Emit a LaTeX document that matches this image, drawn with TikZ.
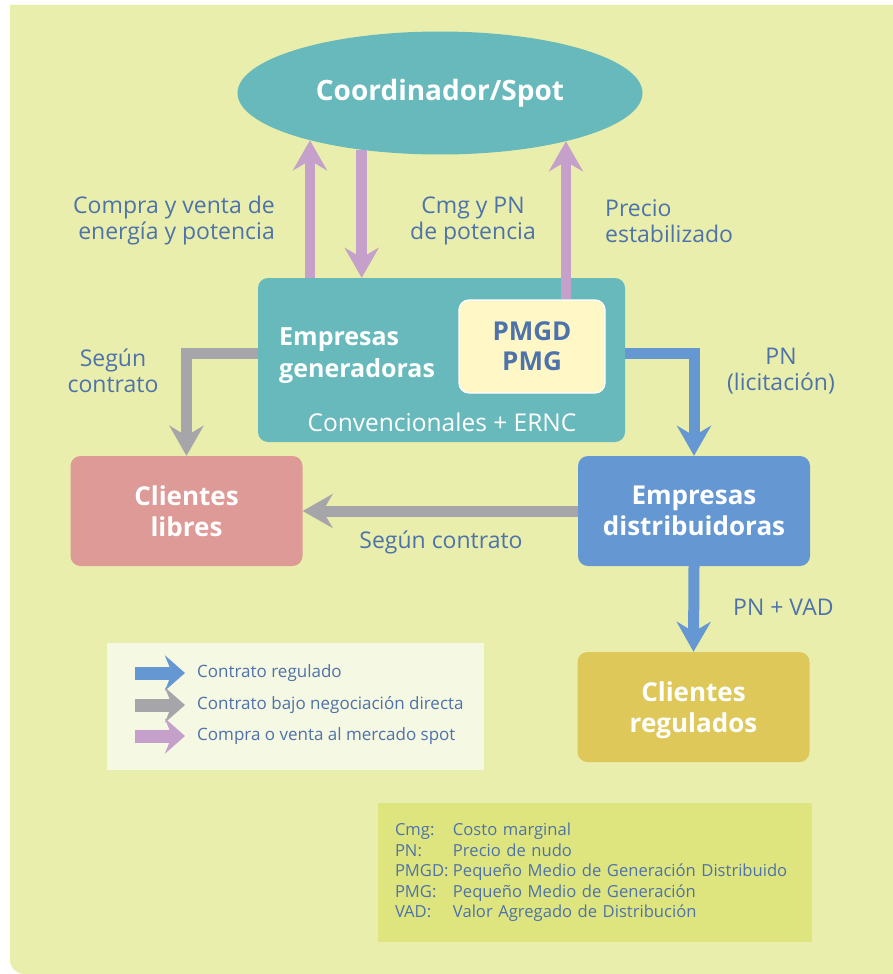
\documentclass[tikz,border=0pt]{standalone}
\usepackage{fontspec}
\setmainfont{Open Sans}
\usetikzlibrary{arrows.meta,shapes.geometric,calc}
\definecolor{panelcolor}{RGB}{233,238,172}
\definecolor{tealcolor}{RGB}{104,185,188}
\definecolor{spotcolor}{RGB}{196,160,203}
\definecolor{directcolor}{RGB}{166,166,170}
\definecolor{regcolor}{RGB}{101,152,210}
\definecolor{librecolor}{RGB}{222,154,150}
\definecolor{regclientcolor}{RGB}{223,200,90}
\definecolor{pmgdcolor}{RGB}{255,248,198}
\definecolor{textcolor}{RGB}{78,114,170}
\definecolor{legendcolor}{RGB}{245,248,226}
\definecolor{glosscolor}{RGB}{222,229,126}

\begin{document}
\begin{tikzpicture}[x=1pt,y=-1pt,
			spotellipse/.style={
				ellipse,
				fill=tealcolor,
				minimum width=405pt,
				minimum height=123pt,
				inner sep=0pt,
				text=white,
				font=\fontsize{28}{32}\selectfont\bfseries
			},
			genbox/.style={
				rounded corners=10pt,
				fill=tealcolor,
				minimum width=367pt,
				minimum height=164pt
			},
			pmgdbox/.style={
				rounded corners=10pt,
				draw=white,
				line width=1.2pt,
				fill=pmgdcolor,
				minimum width=146pt,
				minimum height=93pt,
				align=center,
				text=textcolor,
				font=\fontsize{26}{30}\selectfont\bfseries
			},
			clientbox/.style={
				rounded corners=10pt,
				minimum width=232pt,
				minimum height=110pt,
				align=center,
				text=white,
				font=\fontsize{26}{31}\selectfont\bfseries
			},
			boxtitle/.style={
				inner sep=0pt,
				text=white,
				font=\fontsize{25}{32}\selectfont\bfseries
			},
			labeltext/.style={
				inner sep=0pt,
				align=center,
				text=textcolor,
				font=\fontsize{23}{26}\selectfont
			},
			legendbox/.style={
				fill=legendcolor,
				minimum width=377pt,
				minimum height=127pt
			},
			legendtext/.style={
				anchor=west,
				inner sep=0pt,
				text=textcolor,
				font=\fontsize{17}{20}\selectfont
			},
			glossbox/.style={
				fill=glosscolor,
				minimum width=434pt,
				minimum height=139pt,
				inner xsep=17pt,
				text width=400pt,
				align=left,
				text=textcolor,
				font=\fontsize{16.6}{20.5}\selectfont
			},
			spotarrow/.style={
				-{Stealth[length=30pt,width=34pt,inset=10pt]},
				draw=spotcolor,
				line width=10.5pt
			},
			directarrow/.style={
				-{Stealth[length=30pt,width=34pt,inset=10pt]},
				draw=directcolor,
				line width=11pt
			},
			regarrow/.style={
				-{Stealth[length=30pt,width=34pt,inset=10pt]},
				draw=regcolor,
				line width=11pt
			},
			legendarrow/.style={
				-{Stealth[length=20pt,width=35pt,inset=7pt]},
				line width=13pt
			}
			]
			
			\useasboundingbox (0,0) rectangle (893,974);
			\fill[panelcolor] (893,5) -- (10,5) -- (10,960)
				arc[start angle=180,end angle=90,radius=14] -- (893,974) -- cycle;
			
			\node[spotellipse] (spot) at (440,93) {Coordinador/Spot};
			
			\node[genbox] (gen) at (441.5,360) {};
			\node[pmgdbox] (pmgd) at (532,346.5) {PMGD\\PMG};
			\node[boxtitle,anchor=west,align=left] (gentitle) at (279,356) {Empresas\\generadoras};
			\node[labeltext,text=white,font=\fontsize{24.5}{26}\selectfont] (gensub) at (442,422) {Convencionales + ERNC};
			
			\node[clientbox,fill=librecolor] (libres) at (186.5,511) {Clientes\\libres};
			\node[clientbox,fill=regcolor] (dist) at (694,511) {Empresas\\distribuidoras};
			\node[clientbox,fill=regclientcolor,text depth=-4pt] (regulados) at (693.5,707) {Clientes\\regulados};
			
			\draw[spotarrow] (spot.200.7 |- gen.north) -- (spot.200.7);
			\draw[spotarrow] (spot.216.5) -- (spot.216.5 |- gen.north);
			\draw[spotarrow] (spot.339 |- pmgd.north) -- (spot.339);
			\draw[directarrow] ($(gen.west)+(0,-7)$) -| (libres.north);
			\draw[regarrow] ($(gen.east)+(0,-7)$) -| (dist.north);
			\draw[directarrow] (dist.west) -- (libres.east);
			\draw[regarrow] (dist.south) -- (regulados.north);
			
			\node[labeltext,anchor=east,align=right] (compra) at (275,221) {Compra y venta de\\energía y potencia};
			\node[labeltext] (cmg) at (473,221) {Cmg y PN\\de potencia};
			\node[labeltext,anchor=west,align=left] (precio) at (605,221) {Precio\\estabilizado};
			\node[labeltext] (segun) at (113,371) {Según\\contrato};
			\node[labeltext] (licit) at (781,371) {PN\\(licitación)};
			\node[labeltext] (segunbajo) at (441,542) {Según contrato};
			\node[labeltext,anchor=west] (pnvad) at (733,607) {PN + VAD};
			
			\node[legendbox] (legend) at (295.5,706.5) {};
			\node[legendtext] (legreg) at (197,673) {Contrato regulado};
			\node[legendtext] (legdir) at (197,705) {Contrato bajo negociación directa};
			\node[legendtext] (legspot) at (197,736) {Compra o venta al mercado spot};
			\draw[legendarrow,draw=regcolor] ($(legreg.west)+(-62,0)$) -- ($(legreg.west)+(-12,0)$);
			\draw[legendarrow,draw=directcolor] ($(legdir.west)+(-62,0)$) -- ($(legdir.west)+(-12,0)$);
			\draw[legendarrow,draw=spotcolor] ($(legspot.west)+(-62,0)$) -- ($(legspot.west)+(-12,0)$);
			
			\node[glossbox] (gloss) at (595,872.5) {
				\makebox[58pt][l]{Cmg:}Costo marginal\\
				\makebox[58pt][l]{PN:}Precio de nudo\\
				\makebox[58pt][l]{PMGD:}Pequeño Medio de Generación Distribuido\\
				\makebox[58pt][l]{PMG:}Pequeño Medio de Generación\\
				\makebox[58pt][l]{VAD:}Valor Agregado de Distribución
			};
			
		\end{tikzpicture}
\end{document}
